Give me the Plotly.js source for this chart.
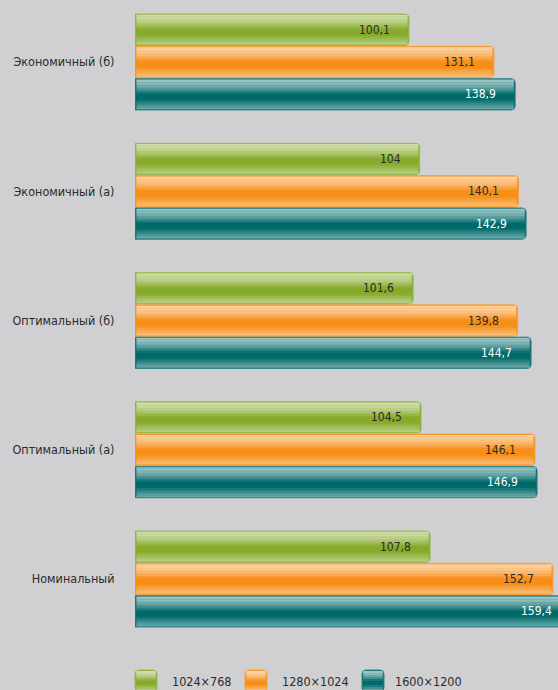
<!DOCTYPE html>
<html>
<head>
<meta charset="utf-8">
<script src="https://cdn.plot.ly/plotly-3.0.1.min.js"></script>
<style>html,body{margin:0;padding:0;background:#d0d0d2;overflow:hidden;width:558px;height:690px;}</style>
</head>
<body>
<div id="chart" style="width:590px;height:690px;"></div>
<script>
const categories = ["Экономичный (б)", "Экономичный (а)", "Оптимальный (б)", "Оптимальный (а)", "Номинальный"];
const seriesNames = ["1024×768", "1280×1024", "1600×1200"];
const res1024 = [100.1, 104, 101.6, 104.5, 107.8];
const res1280 = [131.1, 140.1, 139.8, 146.1, 152.7];
const res1600 = [138.9, 142.9, 144.7, 146.9, 159.4];

const series = [res1024, res1280, res1600];
const fills = ["#86aa2a", "#f78e16", "#006a6a"];
const borders = ["#9bbb58", "#f3a23c", "#3b8787"];
const textColors = ["#2b2b2b", "#2b2b2b", "#ffffff"];
const idx = categories.map((c, i) => i);
const FONT = "'DejaVu Sans Condensed', 'Liberation Sans Narrow', sans-serif";

const W = 590, H = 690, ML = 135, MB = 46;
const PW = W - ML, PH = H - MB;
const gap = 0.25, bw = (1 - gap) / 3;

const traces = series.map((vals, k) => ({
  type: "bar",
  orientation: "h",
  name: seriesNames[k],
  y: idx,
  x: vals,
  marker: {color: fills[k], line: {color: borders[k], width: 1}, cornerradius: 4},
  hoverinfo: "none",
  showlegend: false
}));

// glossy look: white overlay strength across the bar height (style only, not data)
function glossAt(t) {
  if (t < 0.45) return 0.62 - 0.62 * Math.pow(t / 0.45, 1.6) * 0.85;
  if (t < 0.5) return 0.09 * (0.5 - t) / 0.05;
  if (t < 0.66) return 0;
  return 0.45 * (t - 0.66) / 0.34;
}
const NS = 20;
const shapes = [];
const annotations = [];
series.forEach((vals, k) => {
  vals.forEach((v, i) => {
    const top = i - (1 - gap) / 2 + bw * k;
    for (let s = 0; s < NS; s++) {
      const op = glossAt((s + 0.5) / NS);
      if (op <= 0.005) continue;
      shapes.push({type: "rect", xref: "x", yref: "y", x0: 0.5, x1: v - 0.5,
        y0: top + bw * (0.04 + 0.92 * s / NS), y1: top + bw * (0.04 + 0.92 * (s + 1) / NS),
        fillcolor: "rgba(255,255,255," + op.toFixed(3) + ")", line: {width: 0}, layer: "above"});
    }
    annotations.push({xref: "x", yref: "y", x: v, y: top + bw / 2, xanchor: "right", yanchor: "middle",
      xshift: -17, showarrow: false, text: String(v).replace(".", ","),
      font: {family: FONT, size: 12, color: textColors[k]}});
  });
});

// legend drawn as rounded glossy swatches + labels below the plot
const legendSwatchX = [146, 256, 373];
const legendTextX = [170, 280, 393];
const legendY = 681;
const rr = "M -11 -7 Q -11 -11 -7 -11 L 7 -11 Q 11 -11 11 -7 L 11 7 Q 11 11 7 11 L -7 11 Q -11 11 -11 7 Z";
seriesNames.forEach((nm, k) => {
  const xa = (legendSwatchX[k] - ML) / PW, ya = (PH - legendY) / PH;
  shapes.push({type: "path", xref: "paper", yref: "paper", xsizemode: "pixel", ysizemode: "pixel",
    xanchor: xa, yanchor: ya, path: rr, fillcolor: fills[k], line: {color: borders[k], width: 1}, layer: "above"});
  for (let s = 0; s < 10; s++) {
    const op = glossAt((s + 0.5) / 10);
    if (op <= 0.005) continue;
    const yTop = 10 - 20 * s / 10, yBot = 10 - 20 * (s + 1) / 10;
    shapes.push({type: "path", xref: "paper", yref: "paper", xsizemode: "pixel", ysizemode: "pixel",
      xanchor: xa, yanchor: ya, path: "M -9.8 " + yTop + " L 9.8 " + yTop + " L 9.8 " + yBot + " L -9.8 " + yBot + " Z",
      fillcolor: "rgba(255,255,255," + op.toFixed(3) + ")", line: {width: 0}, layer: "above"});
  }
  annotations.push({xref: "paper", yref: "paper", x: (legendTextX[k] - ML) / PW, y: (PH - legendY) / PH,
    xanchor: "left", yanchor: "middle", showarrow: false, text: nm,
    font: {family: FONT, size: 12.5, color: "#2b2b2b"}});
});

const pxPerUnit = 274 / 100.1;
const layout = {
  width: W, height: H,
  paper_bgcolor: "#d0d0d2", plot_bgcolor: "#d0d0d2",
  margin: {l: ML, r: 0, t: 0, b: MB},
  barmode: "group", bargap: gap, bargroupgap: 0.03,
  xaxis: {range: [0, PW / pxPerUnit], showgrid: false, zeroline: false, showticklabels: false, ticks: "", showline: false},
  yaxis: {range: [4.503, -0.48], tickvals: idx, ticktext: categories, showgrid: false, zeroline: false,
    ticks: "outside", ticklen: 17, tickcolor: "rgba(0,0,0,0)", showline: false,
    tickfont: {family: FONT, size: 12.5, color: "#2b2b2b"}},
  showlegend: false,
  shapes: shapes,
  annotations: annotations,
  font: {family: FONT}
};

Plotly.newPlot("chart", traces, layout, {displayModeBar: false, staticPlot: true});
</script>
</body>
</html>
